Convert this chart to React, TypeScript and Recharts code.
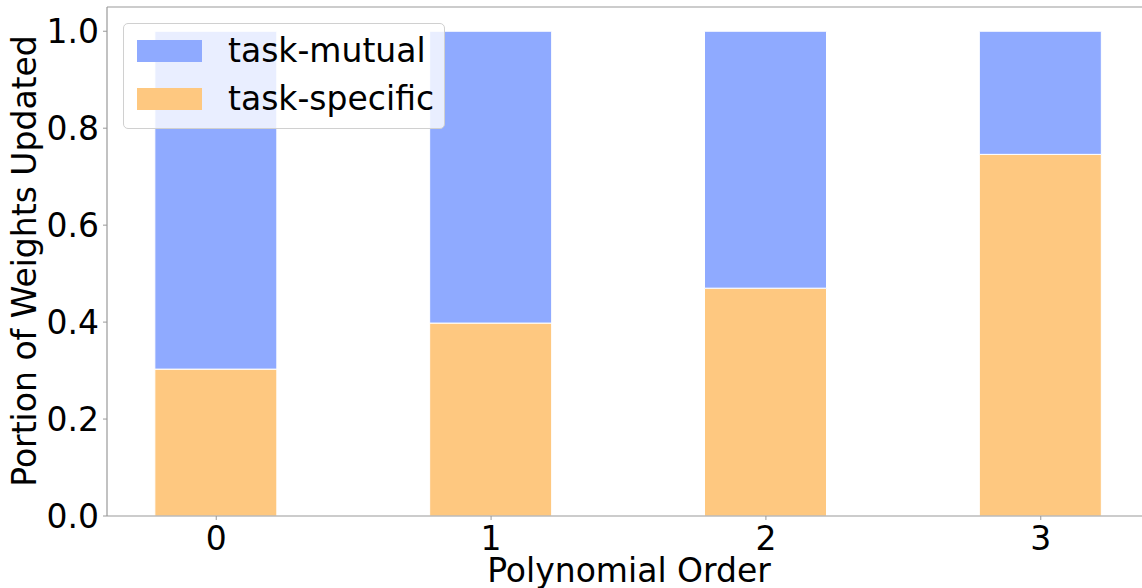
import { Bar, BarChart, Label, ReferenceLine, XAxis, YAxis } from "recharts";

// Values
const orders = [0, 1, 2, 3];
const taskSpecific = [0.303, 0.398, 0.47, 0.746];
const taskMutual = taskSpecific.map((v) => 1 - v);
const yTicks = [0, 0.2, 0.4, 0.6, 0.8, 1.0];

const COLORS = {
  mutual: "#8faaff",
  specific: "#fec880",
  axis: "#999999",
};

const FONT = "'DejaVu Sans', sans-serif";
const FS = 33;

const data = orders.map((order, i) => ({
  order,
  specific: taskSpecific[i],
  mutual: taskMutual[i],
}));

const legendItems = [
  { name: "task-mutual", color: COLORS.mutual },
  { name: "task-specific", color: COLORS.specific },
];

function ChartLegend() {
  return (
    <div
      style={{
        position: "absolute",
        left: 123,
        top: 23,
        width: 320,
        height: 104,
        border: "1px solid #d0d0d0",
        borderRadius: 5,
        background: "rgba(255,255,255,0.8)",
        fontFamily: FONT,
        fontSize: FS,
        color: "#000",
      }}
    >
      {legendItems.map((item, i) => (
        <div
          key={item.name}
          style={{
            position: "absolute",
            left: 0,
            top: 7 + i * 48,
            height: 40,
            display: "flex",
            alignItems: "center",
            whiteSpace: "nowrap",
          }}
        >
          <span
            style={{
              display: "inline-block",
              marginLeft: 13,
              width: 65,
              height: 22,
              background: item.color,
            }}
          />
          <span style={{ marginLeft: 26, lineHeight: "40px" }}>{item.name}</span>
        </div>
      ))}
    </div>
  );
}

export default function App() {
  return (
    <div
      style={{
        position: "absolute",
        left: 0,
        top: 0,
        width: 1142,
        height: 588,
        overflow: "hidden",
        background: "#fff",
      }}
    >
      <BarChart
        width={1150}
        height={588}
        data={data}
        margin={{ top: 7, right: 0, left: 0, bottom: 0 }}
      >
        <XAxis
          dataKey="order"
          type="number"
          domain={[-0.3975, 3.3975]}
          ticks={orders}
          allowDataOverflow
          height={72}
          tickSize={4}
          tickMargin={7}
          stroke={COLORS.axis}
          tick={{ fill: "#000", fontSize: FS, fontFamily: FONT }}
          axisLine={{ stroke: COLORS.axis, strokeWidth: 1.2 }}
          tickLine={{ stroke: COLORS.axis }}
        >
          <Label
            content={() => (
              <text
                x={629}
                y={582}
                textAnchor="middle"
                fontSize={FS}
                fontFamily={FONT}
                fill="#000"
              >
                Polynomial Order
              </text>
            )}
          />
        </XAxis>
        <YAxis
          type="number"
          domain={[0, 1.05]}
          ticks={yTicks}
          width={107}
          tickSize={4}
          tickMargin={4}
          tickFormatter={(v) => v.toFixed(1)}
          stroke={COLORS.axis}
          tick={{ fill: "#000", fontSize: FS, fontFamily: FONT }}
          axisLine={{ stroke: COLORS.axis, strokeWidth: 1.2 }}
          tickLine={{ stroke: COLORS.axis }}
        >
          <Label
            content={() => (
              <text
                x={36}
                y={261}
                transform="rotate(-90 36 261)"
                textAnchor="middle"
                fontSize={FS}
                fontFamily={FONT}
                fill="#000"
              >
                Portion of Weights Updated
              </text>
            )}
          />
        </YAxis>
        <ReferenceLine y={1.05} stroke={COLORS.axis} strokeWidth={1.2} />
        <Bar
          dataKey="specific"
          name="task-specific"
          stackId="a"
          barSize={122}
          fill={COLORS.specific}
          stroke="#ffffff"
          strokeWidth={1}
          isAnimationActive={false}
        />
        <Bar
          dataKey="mutual"
          name="task-mutual"
          stackId="a"
          barSize={122}
          fill={COLORS.mutual}
          stroke="#ffffff"
          strokeWidth={1}
          isAnimationActive={false}
        />
      </BarChart>
      <ChartLegend />
    </div>
  );
}
